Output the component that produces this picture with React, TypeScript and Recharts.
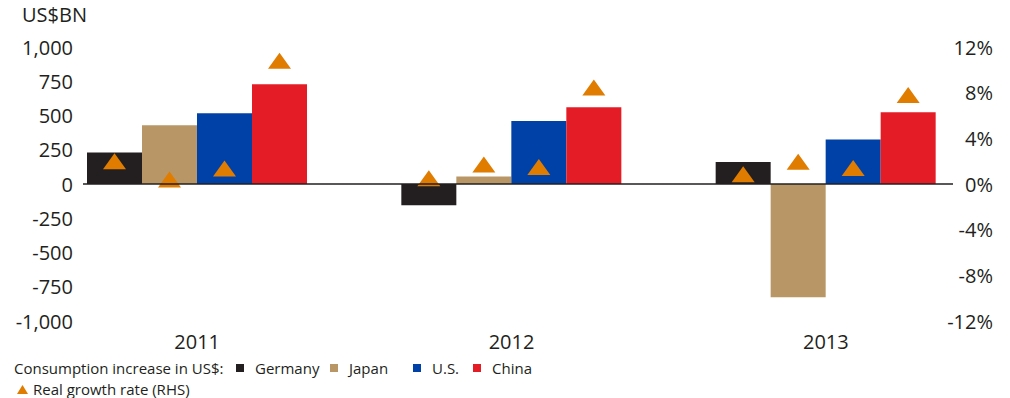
import React from "react";
import { BarChart, Bar, XAxis, YAxis, ReferenceLine } from "recharts";

// consumption increase, US$ bn (left axis)
const years = ["2011", "2012", "2013"];
const germany = [230, -156, 161];
const japan = [429, 54, -826];
const us = [517, 460, 325];
const china = [729, 560, 524];

// real growth rate, % (right axis)
const growthGermany = [2.0, 0.5, 0.85];
const growthJapan = [0.4, 1.7, 1.95];
const growthUS = [1.35, 1.5, 1.4];
const growthChina = [10.8, 8.45, 7.8];

const leftTicks = [-1000, -750, -500, -250, 0, 250, 500, 750, 1000];
const rightTicks = [-12, -8, -4, 0, 4, 8, 12];

const INK = "#231F20";
const ORANGE = "#E07C00";
const FONT = "'Open Sans', sans-serif";

const countries = [
  { key: "germany", name: "Germany", color: "#231F20", values: germany, growth: growthGermany },
  { key: "japan", name: "Japan", color: "#B99666", values: japan, growth: growthJapan },
  { key: "us", name: "U.S.", color: "#0041A8", values: us, growth: growthUS },
  { key: "china", name: "China", color: "#E41C25", values: china, growth: growthChina },
];

const data = years.map((year, i) => {
  const row: Record<string, string | number> = { year };
  countries.forEach((c) => {
    row[c.key] = c.values[i];
    row["g_" + c.key] = c.growth[i];
  });
  return row;
});

// triangle drawn at the value end of an invisible bar on the right axis
function Triangle(props: any) {
  const { x, y, width } = props;
  if (x == null || y == null) return null;
  const cx = x + width / 2;
  return (
    <polygon
      points={`${cx - 11.5},${y + 8} ${cx + 11.5},${y + 8} ${cx},${y - 8}`}
      fill={ORANGE}
    />
  );
}

const LeftTick = ({ y, payload }: any) => (
  <text x={73} y={y} textAnchor="end" dominantBaseline="central" fontSize={20} fill={INK} fontFamily={FONT}>
    {payload.value.toLocaleString("en-US")}
  </text>
);

const RightTick = ({ y, payload }: any) => (
  <text x={993} y={y} textAnchor="end" dominantBaseline="central" fontSize={20} fill={INK} fontFamily={FONT}>
    {payload.value}%
  </text>
);

const YearTick = ({ x, y, payload }: any) => (
  <text x={x} y={y + 20} textAnchor="middle" dominantBaseline="central" fontSize={20} fill={INK} fontFamily={FONT}>
    {payload.value}
  </text>
);

const legendLeft = [236, 330, 413, 473];

export default function App() {
  return (
    <div style={{ position: "absolute", left: 0, top: 0, width: 1010, height: 398, background: "#fff", fontFamily: FONT, color: INK }}>
      <div style={{ position: "absolute", left: 22, top: 2, fontSize: 20, lineHeight: "26px" }}>US$BN</div>
      <BarChart
        width={1010}
        height={360}
        data={data}
        margin={{ top: 47, right: 0, bottom: 0, left: 0 }}
        barCategoryGap={47}
        barGap={0}
      >
        <XAxis dataKey="year" axisLine={false} tickLine={false} tickSize={0} tickMargin={0} height={39} tick={<YearTick />} />
        <YAxis
          yAxisId="left"
          width={40}
          domain={[-1000, 1000]}
          ticks={leftTicks}
          axisLine={false}
          tickLine={false}
          tick={<LeftTick />}
          allowDataOverflow
        />
        <YAxis
          yAxisId="right"
          orientation="right"
          width={27}
          domain={[-12, 12]}
          ticks={rightTicks}
          axisLine={false}
          tickLine={false}
          tick={<RightTick />}
          allowDataOverflow
        />
        {countries.map((c) => (
          <Bar key={c.key} yAxisId="left" dataKey={c.key} stackId={c.key} fill={c.color} isAnimationActive={false} />
        ))}
        {countries.map((c) => (
          <Bar
            key={"g_" + c.key}
            yAxisId="right"
            dataKey={"g_" + c.key}
            stackId={c.key}
            fill={ORANGE}
            shape={<Triangle />}
            isAnimationActive={false}
          />
        ))}
        <ReferenceLine
          yAxisId="left"
          y={0}
          stroke={INK}
          strokeWidth={1.5}
          shape={(p: any) => <line x1={p.x1 + 43} y1={p.y1} x2={p.x2 - 30} y2={p.y2} stroke={INK} strokeWidth={1.5} />}
        />
      </BarChart>
      <div style={{ position: "absolute", left: 0, top: 357, width: 1010, height: 22, fontSize: 15, lineHeight: "22px" }}>
        <span style={{ position: "absolute", left: 14 }}>Consumption increase in US$:</span>
        {countries.map((c, i) => (
          <span key={c.key} style={{ position: "absolute", left: legendLeft[i], display: "flex", alignItems: "center" }}>
            <span style={{ width: 8, height: 8, background: c.color, display: "inline-block", marginRight: 11 }} />
            {c.name}
          </span>
        ))}
      </div>
      <div style={{ position: "absolute", left: 17, top: 378, height: 22, fontSize: 15, lineHeight: "22px", display: "flex", alignItems: "center" }}>
        <svg width={11} height={9} style={{ marginRight: 5 }}>
          <polygon points="0,9 11,9 5.5,0" fill={ORANGE} />
        </svg>
        Real growth rate (RHS)
      </div>
    </div>
  );
}
